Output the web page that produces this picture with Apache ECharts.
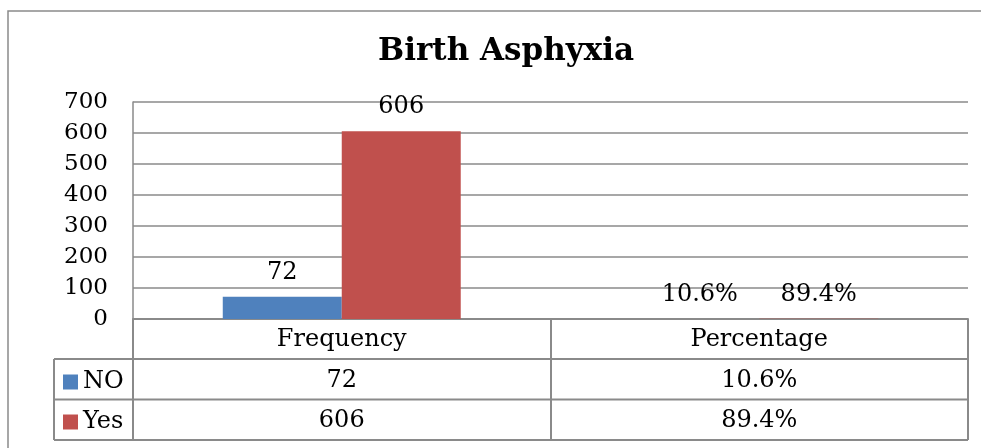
<!DOCTYPE html>
<html>
<head>
<meta charset="utf-8">
<style>
  html, body { margin: 0; padding: 0; background: #fff; }
  #chart { width: 981px; height: 448px; }
</style>
<script src="https://cdn.jsdelivr.net/npm/echarts@6/dist/echarts.min.js"></script>
</head>
<body>
<div id="chart"></div>
<script>
const categories = ['Frequency', 'Percentage'];
const noValues = [72, 0.106];
const yesValues = [606, 0.894];
const seriesNames = ['NO', 'Yes'];

const font = 'DejaVu Serif';
const lineColor = '#8a8a8a';

// frequency as count, percentage as share
const fmt = (catIndex, value) => {
    if (catIndex === 1) {
        return (value * 100).toFixed(1) + '%';
    }
    return String(value);
};

const chart = echarts.init(document.getElementById('chart'));

const barLabel = {
    show: true,
    position: 'top',
    distance: 12,
    fontFamily: font,
    fontSize: 24,
    color: '#000',
    formatter: (p) => fmt(p.dataIndex, p.value),
};

const option = {
    backgroundColor: '#fff',
    animation: false,
    title: {
        text: 'Birth Asphyxia',
        left: 373,
        top: 31,
        textStyle: {
            fontFamily: font,
            fontWeight: 'bold',
            fontSize: 31,
            color: '#000',
        },
    },
    legend: {
        orient: 'vertical',
        left: 58,
        top: 365,
        itemWidth: 15,
        itemHeight: 15,
        itemGap: 16,
        icon: 'rect',
        data: seriesNames,
        textStyle: {
            fontFamily: font,
            fontSize: 24,
            color: '#000',
        },
    },
    grid: {
        left: 133,
        right: 13,
        top: 102,
        bottom: 129,
    },
    xAxis: {
        type: 'category',
        data: categories,
        axisLine: {
            lineStyle: { color: lineColor, width: 2 },
        },
        axisTick: {
            show: true,
            length: 121,
            lineStyle: { color: lineColor, width: 2 },
        },
        axisLabel: {
            margin: 1,
            interval: 0,
            fontFamily: font,
            fontSize: 24,
            lineHeight: 40.5,
            color: '#000',
            formatter: (value, idx) => {
                return value + '\n' + fmt(idx, noValues[idx]) + '\n' + fmt(idx, yesValues[idx]);
            },
        },
    },
    yAxis: {
        type: 'value',
        min: 0,
        max: 700,
        interval: 100,
        axisLine: {
            show: true,
            lineStyle: { color: lineColor, width: 1.5 },
        },
        axisTick: { show: false },
        axisLabel: {
            margin: 25,
            fontFamily: font,
            fontSize: 23,
            color: '#000',
        },
        splitLine: {
            lineStyle: { color: lineColor, width: 1.5 },
        },
    },
    series: [
        {
            name: seriesNames[0],
            type: 'bar',
            data: noValues,
            barGap: '0%',
            barCategoryGap: '43%',
            itemStyle: { color: '#4F81BD' },
            label: barLabel,
        },
        {
            name: seriesNames[1],
            type: 'bar',
            data: yesValues,
            itemStyle: { color: '#C0504D' },
            label: barLabel,
        },
    ],
    graphic: [
        // outer frame
        {
            type: 'rect',
            shape: { x: 8, y: 11, width: 1000, height: 500 },
            style: { fill: 'none', stroke: lineColor, lineWidth: 1.5 },
        },
        // data table rows
        {
            type: 'line',
            shape: { x1: 54, y1: 359, x2: 968, y2: 359 },
            style: { stroke: lineColor, lineWidth: 2 },
        },
        {
            type: 'line',
            shape: { x1: 54, y1: 399.5, x2: 968, y2: 399.5 },
            style: { stroke: lineColor, lineWidth: 2 },
        },
        {
            type: 'line',
            shape: { x1: 54, y1: 440, x2: 968, y2: 440 },
            style: { stroke: lineColor, lineWidth: 2 },
        },
        {
            type: 'line',
            shape: { x1: 54, y1: 359, x2: 54, y2: 440 },
            style: { stroke: lineColor, lineWidth: 2 },
        },
    ],
};

chart.setOption(option);
</script>
</body>
</html>
